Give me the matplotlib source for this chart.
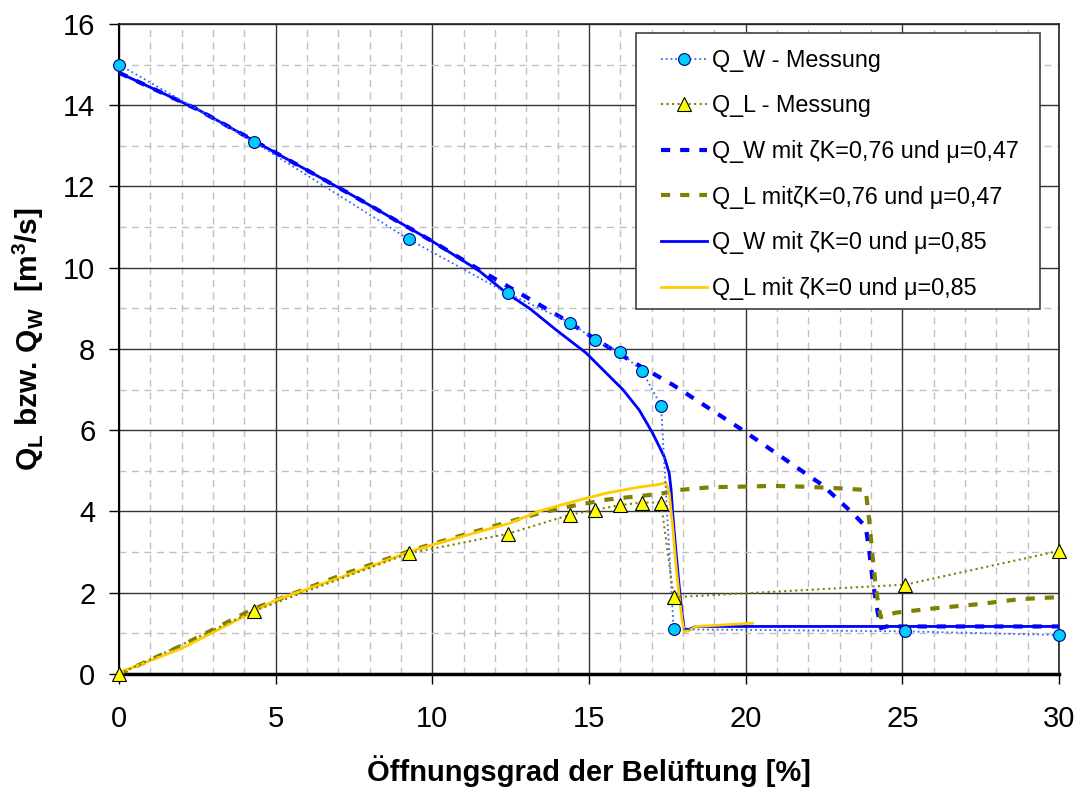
import matplotlib
matplotlib.use("Agg")
import matplotlib.pyplot as plt
from matplotlib.ticker import MultipleLocator
from matplotlib.patches import Rectangle

plt.rcParams['font.family'] = ['Liberation Sans', 'DejaVu Sans']
plt.rcParams['mathtext.fontset'] = 'custom'
plt.rcParams['mathtext.rm'] = 'Liberation Sans'
plt.rcParams['mathtext.bf'] = 'Liberation Sans:bold'

# measurements
x_meas = [0, 4.3, 9.25, 12.4, 14.4, 15.2, 16.0, 16.7, 17.3, 17.7, 25.1, 30]
qw_meas = [15.0, 13.1, 10.7, 9.37, 8.65, 8.22, 7.92, 7.45, 6.6, 1.1, 1.05, 0.96]
ql_meas = [0, 1.55, 2.97, 3.45, 3.92, 4.04, 4.16, 4.22, 4.22, 1.89, 2.2, 3.03]

# model zeta=0.76, mu=0.47
x_w1 = [0, 2.5, 5, 7.5, 10, 11.5, 12.68, 14.06, 15.23, 16.29, 17.67, 19.85,
        22.45, 23.41, 23.83, 23.94, 24.05, 24.2, 24.31, 24.5, 30]
qw_1 = [14.8, 13.9, 12.83, 11.76, 10.65, 9.95, 9.42, 8.8, 8.23, 7.73, 7.12, 6.03,
        4.65, 3.96, 3.63, 3.05, 2.32, 1.58, 1.13, 1.17, 1.17]
x_l1 = [0, 2, 4.28, 7.15, 9.28, 10, 12.46, 13.42, 14.48, 15.55, 16.6, 17.24,
        17.88, 18.94, 19.8, 20.85, 21.92, 22.98, 23.83, 23.94, 24.05, 24.15,
        24.26, 24.31, 24.79, 26.07, 27.45, 28.72, 30.16]
ql_1 = [0, 0.7, 1.6, 2.45, 3.03, 3.2, 3.75, 3.96, 4.14, 4.29, 4.38, 4.43,
        4.53, 4.6, 4.61, 4.63, 4.61, 4.57, 4.53, 3.79, 2.89, 2.15,
        1.58, 1.40, 1.51, 1.62, 1.72, 1.84, 1.90]

# model zeta=0, mu=0.85
x_w2 = [0, 2.5, 5, 7.5, 10, 11.5, 12.36, 13.1, 13.95, 14.91, 16.08, 16.6, 17.03,
        17.4, 17.56, 17.62, 17.67, 17.78, 17.88, 17.97, 18.04, 18.2, 18.41, 30]
qw_2 = [14.8, 13.9, 12.83, 11.76, 10.65, 9.92, 9.38, 9.0, 8.47, 7.9, 7.0, 6.5, 5.93,
        5.35, 4.94, 4.53, 3.96, 2.97, 2.15, 1.49, 1.10, 1.10, 1.17, 1.17]
x_l2 = [0, 2, 4.28, 5, 7.15, 9.28, 10, 12.46, 13.42, 14.48, 15.55, 16.6, 17.19,
        17.46, 17.56, 17.67, 17.78, 17.88, 17.97, 18.04, 18.2, 18.41, 20.22]
ql_2 = [0.03, 0.63, 1.53, 1.82, 2.40, 3.01, 3.18, 3.71, 4.01, 4.24, 4.45, 4.6, 4.66,
        4.71, 4.45, 3.63, 2.64, 1.9, 1.33, 1.04, 1.07, 1.17, 1.25]

fig = plt.figure(figsize=(10.78, 7.87), dpi=100)
ax = fig.add_axes([0.1104, 0.1436, 0.8720, 0.8259])

l3, = ax.plot(x_w1, qw_1, color='#0000FF', lw=3, dashes=(2.2, 2.4),
              label='Q_W mit ζK=0,76 und μ=0,47', zorder=3)
l4, = ax.plot(x_l1, ql_1, color='#808000', lw=3, dashes=(2.2, 2.4),
              label='Q_L mitζK=0,76 und μ=0,47', zorder=3, clip_on=False)
l5, = ax.plot(x_w2, qw_2, color='#0000FF', lw=2, label='Q_W mit ζK=0 und μ=0,85', zorder=4)
l6, = ax.plot(x_l2, ql_2, color='#FFCC00', lw=2, label='Q_L mit ζK=0 und μ=0,85', zorder=4)
l1, = ax.plot(x_meas, qw_meas, color='#3366FF', lw=1.3, ls=':', marker='o', ms=8.5,
              mfc='#00CCFF', mec='#000080', mew=0.8, label='Q_W - Messung',
              zorder=5, clip_on=False)
l2, = ax.plot(x_meas, ql_meas, color='#808000', lw=1.5, ls=':', marker='^', ms=9.5,
              mfc='#FFFF00', mec='#000000', mew=0.8, label='Q_L - Messung',
              zorder=5, clip_on=False)

ax.set_xlim(0, 30)
ax.set_ylim(0, 16)
ax.xaxis.set_major_locator(MultipleLocator(5))
ax.xaxis.set_minor_locator(MultipleLocator(1))
ax.yaxis.set_major_locator(MultipleLocator(2))
ax.yaxis.set_minor_locator(MultipleLocator(1))

ax.grid(which='major', color='#333333', lw=1.0, ls='-', zorder=1)
ax.grid(which='minor', color='#c0c0c0', lw=1.0, ls=(0, (5, 4)), zorder=1)
ax.set_axisbelow(True)

ax.tick_params(which='major', direction='out', length=7, width=1, labelsize=21)
ax.tick_params(axis='y', which='major', pad=10)
ax.tick_params(axis='x', which='major', pad=15)
ax.tick_params(which='minor', length=0)

for side in ['top', 'right']:
    ax.spines[side].set_linewidth(1.2)
    ax.spines[side].set_color('#222222')
ax.spines['left'].set_linewidth(1.5)
ax.spines['bottom'].set_linewidth(2.5)

ax.set_xlabel('Öffnungsgrad der Belüftung [%]', fontsize=21, fontweight='bold', labelpad=16)
ax.set_ylabel(r'Q$_\mathbf{L}$ bzw. Q$_\mathbf{W}$  [m$^\mathbf{3}$/s]', fontsize=21.5,
              fontweight='bold', labelpad=12)
ax.yaxis.label.set_y(0.515)

# legend box drawn separately (Excel style padding)
box = Rectangle((0.55, 0.5615), 0.4298, 0.4245, transform=ax.transAxes,
                facecolor='white', edgecolor='#404040', lw=1.2, zorder=9)
ax.add_patch(box)
leg = ax.legend(handles=[l1, l2, l3, l4, l5, l6], loc='upper left',
                bbox_to_anchor=(0.5638, 0.98), fontsize=16.8, frameon=False,
                labelspacing=0.97, handlelength=2.0, handletextpad=0.2,
                borderpad=0.5, borderaxespad=0)
leg.set_zorder(10)

fig.savefig('out.png', dpi=100, facecolor='white')
